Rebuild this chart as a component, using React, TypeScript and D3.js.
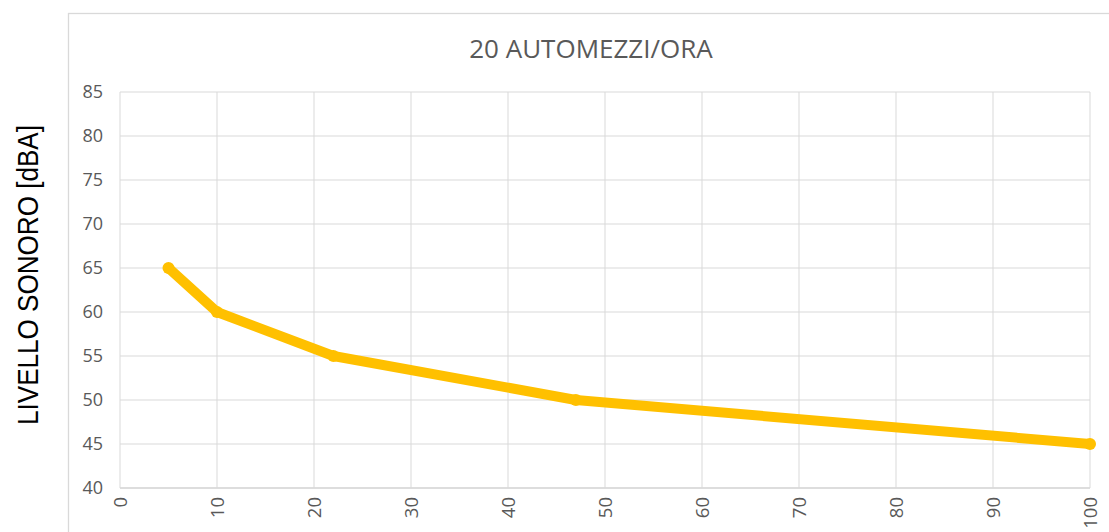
import React from "react";
import * as d3 from "d3";

const xValues = [5, 10, 22, 47, 100];
const yValues = [65, 60, 55, 50, 45];
const xTicks = [0, 10, 20, 30, 40, 50, 60, 70, 80, 90, 100];
const yTicks = [40, 45, 50, 55, 60, 65, 70, 75, 80, 85];
const title = "20 AUTOMEZZI/ORA";
const yTitle = "LIVELLO SONORO [dBA]";

export default function App() {
  const W = 1109, H = 532;
  const x = d3.scaleLinear().domain([0, 100]).range([120, 1090]);
  const y = d3.scaleLinear().domain([40, 85]).range([488, 92]);
  const pts = xValues.map((v, i) => [x(v), y(yValues[i])] as [number, number]);
  const line = d3.line()(pts) || "";
  const grid = "#D9D9D9";
  const lab = "#595959";
  const font = "'Open Sans', sans-serif";
  return (
    <svg width={W} height={H} style={{ position: "fixed", left: 0, top: 0, background: "#fff" }}>
      <rect x={0} y={0} width={W} height={H} fill="#fff" />
      <rect x={68.5} y={13.5} width={1200} height={700} fill="#fff" stroke={grid} strokeWidth={1.3} />
      {yTicks.map((t) => (
        <g key={"y" + t}>
          <line x1={120} x2={1090} y1={y(t)} y2={y(t)} stroke={grid} strokeWidth={1} />
          <text x={103} y={y(t)} dy="0.36em" textAnchor="end" fill={lab} fontFamily={font} fontSize={18}>
            {t}
          </text>
        </g>
      ))}
      {xTicks.map((t) => (
        <g key={"x" + t}>
          <line x1={x(t)} x2={x(t)} y1={92} y2={488} stroke={grid} strokeWidth={1} />
          <text
            transform={`translate(${x(t)},497) rotate(-90)`}
            textAnchor="end"
            dy="0.36em"
            fill={lab}
            fontFamily={font}
            fontSize={18.5}
          >
            {t}
          </text>
        </g>
      ))}
      <line x1={120} x2={1090} y1={488} y2={488} stroke={grid} strokeWidth={1.3} />
      <text x={591} y={58} textAnchor="middle" fill={lab} fontFamily={font} fontSize={26}>
        {title}
      </text>
      <text
        transform="translate(38,275) rotate(-90)"
        textAnchor="middle"
        fill="#000"
        fontFamily="'Liberation Sans', Arial, sans-serif"
        fontSize={30}
        textLength={300}
        lengthAdjust="spacingAndGlyphs"
      >
        {yTitle}
      </text>
      <path d={line} fill="none" stroke="#FFC000" strokeWidth={10} strokeLinejoin="round" strokeLinecap="round" />
      {pts.map((p, i) => (
        <circle key={i} cx={p[0]} cy={p[1]} r={6} fill="#FFC000" />
      ))}
    </svg>
  );
}
